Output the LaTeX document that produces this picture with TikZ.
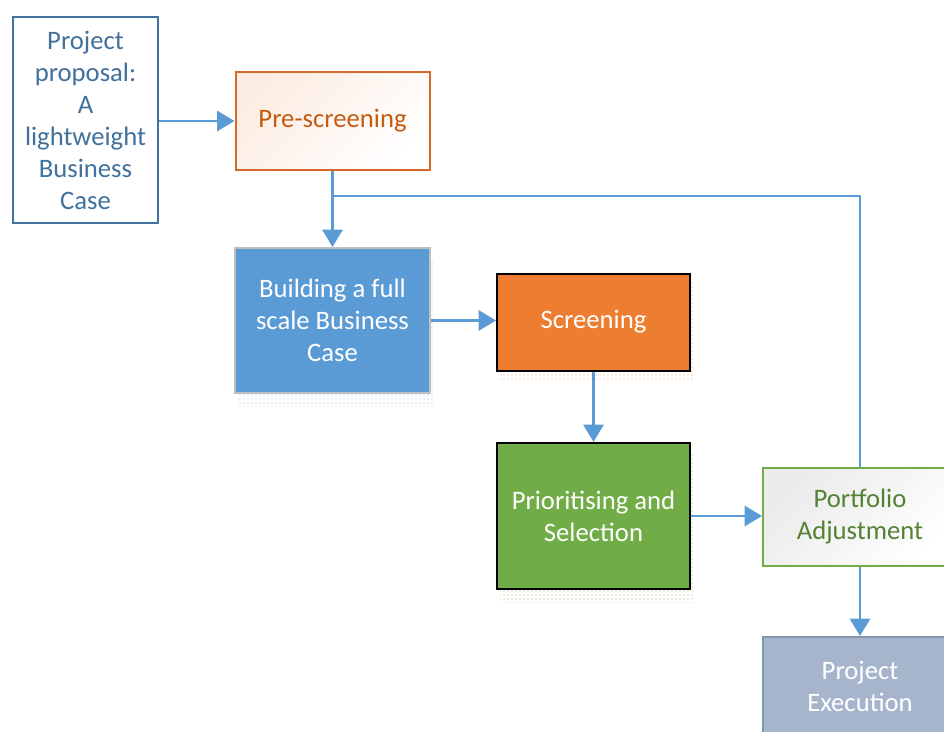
\documentclass[tikz,border=0pt]{standalone}
\usepackage{fontspec}
\setmainfont{Carlito}
\usetikzlibrary{arrows.meta,patterns,backgrounds}
\definecolor{flowblue}{HTML}{5B9BD5}
\definecolor{propblue}{HTML}{41719C}
\definecolor{orangeline}{HTML}{D4692A}
\definecolor{orangetext}{HTML}{C55A11}
\definecolor{orangefill}{HTML}{ED7D31}
\definecolor{greenfill}{HTML}{70AD47}
\definecolor{greentext}{HTML}{548235}
\definecolor{execfill}{HTML}{A6B5CC}
\definecolor{execline}{HTML}{8497B0}
\tikzset{
  box/.style={rectangle, line width=1.5pt, align=center, inner sep=2pt,
    font=\fontsize{20}{24}\selectfont},
  flow/.style={draw=flowblue, line width=2.2pt},
  flowarrow/.style={flow, -{Triangle[length=13pt,width=15pt]}},
  dotshadow/.style={pattern=dots, pattern color=#1},
}
\begin{document}
\begin{tikzpicture}[x=0.75pt, y=-0.75pt]
\useasboundingbox (0,0) rectangle (944,731);
\clip (0,0) rectangle (944,731);

% process steps
\node[box, draw=propblue, text=propblue, fill=white,
  minimum width=108.75pt, minimum height=154.5pt] (prop) at (85.5,120)
  {Project\\proposal:\\A\\lightweight\\Business\\Case};
\node[box, draw=orangeline, text=orangetext,
  left color=orangefill!14, right color=white, shading angle=45,
  minimum width=145.5pt, minimum height=72.75pt] (pre) at (332.5,121)
  {Pre-screening};
\node[box, draw=black!25, fill=flowblue, text=white,
  minimum width=146.25pt, minimum height=108.75pt] (build) at (332.5,320.5)
  {Building a full\\scale Business\\Case};
\node[box, draw=black, fill=orangefill, text=white,
  minimum width=144.75pt, minimum height=72.75pt] (screen) at (593.5,322)
  {Screening};
\node[box, draw=black, fill=greenfill, text=white,
  minimum width=144.75pt, minimum height=109.5pt] (prio) at (593.5,516)
  {Prioritising and\\Selection};
\node[box, draw=greenfill, text=greentext,
  left color=black!8, right color=white, shading angle=45,
  minimum width=145.5pt, minimum height=73.5pt] (port) at (860,517)
  {Portfolio\\Adjustment};
\node[box, draw=execline, fill=execfill, text=white,
  minimum width=145.5pt, minimum height=73.5pt] (exec) at (860,686)
  {Project\\Execution};

% dotted drop shadows
\begin{scope}[on background layer]
  \fill[dotshadow=flowblue!70] ([shift={(4,12)}]build.south west) rectangle ([shift={(4,12)}]build.north east);
  \fill[dotshadow=orangefill!80] ([shift={(4,8)}]screen.south west) rectangle ([shift={(4,8)}]screen.north east);
  \fill[dotshadow=greenfill!80] ([shift={(4,12)}]prio.south west) rectangle ([shift={(4,12)}]prio.north east);
\end{scope}

% connectors
\coordinate (join) at (332.5,196);
\draw[flowarrow] (prop.east |- pre.west) -- (pre.west);
\draw[flowarrow] (pre.south) -- (build.north);
\draw[flow] (port.north) -- (port.north |- join) -- (join);
\draw[flowarrow] (build.east) -- (build.east -| screen.west);
\draw[flowarrow] (screen.south) -- (prio.north);
\draw[flowarrow] (prio.east) -- (prio.east -| port.west);
\draw[flowarrow] (port.south) -- (exec.north);
\end{tikzpicture}
\end{document}
